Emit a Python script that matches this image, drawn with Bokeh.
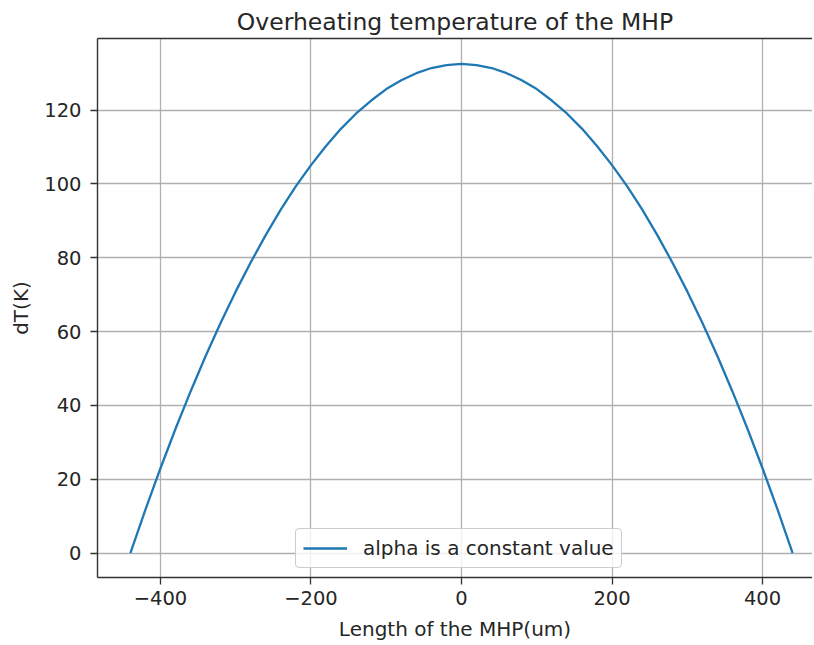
from bokeh.plotting import figure
from bokeh.models import Range1d, LinearAxis, FixedTicker, Legend, LegendItem
from bokeh.embed import file_html
from bokeh.resources import INLINE

# Data
length_um = [-440, -420, -400, -380, -360, -340, -320, -300, -280, -260, -240, -220,
             -200, -180, -160, -140, -120, -100, -80, -60, -40, -20, 0,
             20, 40, 60, 80, 100, 120, 140, 160, 180, 200, 220, 240, 260, 280,
             300, 320, 340, 360, 380, 400, 420, 440]
dT_K = [0.0, 11.8, 23.0, 33.7, 43.8, 53.4, 62.4, 70.9, 78.8, 86.2, 93.1, 99.4,
        105.1, 110.3, 115.0, 119.1, 122.6, 125.7, 128.1, 130.0, 131.4, 132.2, 132.5,
        132.2, 131.4, 130.0, 128.1, 125.7, 122.6, 119.1, 115.0, 110.3, 105.1, 99.4,
        93.1, 86.2, 78.8, 70.9, 62.4, 53.4, 43.8, 33.7, 23.0, 11.8, 0.0]
x_ticks = [-400, -200, 0, 200, 400]
y_ticks = [0, 20, 40, 60, 80, 100, 120]
series_label = "alpha is a constant value"

FONT = "DejaVu Sans"
TXT = "#262626"

p = figure(width=812, height=643, output_backend="svg", toolbar_location=None,
           x_range=Range1d(-483.7, 466.4), y_range=Range1d(-6.6, 139.4),
           min_border_left=97, min_border_right=0, min_border_top=38, min_border_bottom=65)
p.outline_line_color = None

p.title.text = "Overheating temperature of the MHP"
p.title.align = "center"
p.title.text_font = FONT
p.title.text_font_size = "23.5px"
p.title.text_font_style = "normal"
p.title.text_color = TXT
p.title.standoff = 6

line = p.line(length_um, dT_K, line_color="#1f77b4", line_width=2.3)

for ax in (p.xaxis[0], p.yaxis[0]):
    ax.major_label_text_font = FONT
    ax.major_label_text_font_size = "19.5px"
    ax.major_label_text_color = TXT
    ax.axis_label_text_font = FONT
    ax.axis_label_text_font_size = "20px"
    ax.axis_label_text_font_style = "normal"
    ax.axis_label_text_color = TXT
    ax.minor_tick_line_color = None
    ax.major_tick_out = 7
    ax.major_tick_in = 0
    ax.axis_line_color = "#333333"
    ax.axis_line_width = 1.4
    ax.major_tick_line_color = "#333333"
    ax.major_tick_line_width = 1.3

p.xaxis[0].major_label_standoff = 6
p.yaxis[0].major_label_standoff = 9
p.xaxis[0].ticker = FixedTicker(ticks=x_ticks)
p.yaxis[0].ticker = FixedTicker(ticks=y_ticks)
p.xaxis[0].axis_label = "Length of the MHP(um)"
p.yaxis[0].axis_label = "dT(K)"
p.xaxis[0].major_label_overrides = {v: ("\u2212" + str(-v) if v < 0 else str(v)) for v in x_ticks}
p.xaxis[0].axis_label_standoff = 9
p.yaxis[0].axis_label_standoff = 8

top = LinearAxis(ticker=FixedTicker(ticks=[]), major_label_text_font_size="0px",
                 major_tick_line_color=None, minor_tick_line_color=None,
                 axis_line_color="#333333", axis_line_width=1.4)
p.add_layout(top, "above")

p.xgrid.ticker = FixedTicker(ticks=x_ticks)
p.ygrid.ticker = FixedTicker(ticks=y_ticks)
p.xgrid.grid_line_color = "#b0b0b0"
p.ygrid.grid_line_color = "#b0b0b0"
p.xgrid.grid_line_width = 1.3
p.ygrid.grid_line_width = 1.3

legend = Legend(items=[LegendItem(label=series_label, renderers=[line])],
                location=(198, 9), margin=0)
legend.label_text_font = FONT
legend.label_text_font_size = "20px"
legend.label_text_color = TXT
legend.border_line_color = "#cccccc"
legend.border_line_alpha = 1
legend.border_line_width = 1.2
legend.background_fill_alpha = 0.8
legend.glyph_width = 44
legend.glyph_height = 20
legend.padding = 7
legend.spacing = 0
legend.label_standoff = 16
legend.label_height = 20
legend.border_radius = 4
p.add_layout(legend, "center")

open("out.html", "w").write(file_html(p, INLINE))
